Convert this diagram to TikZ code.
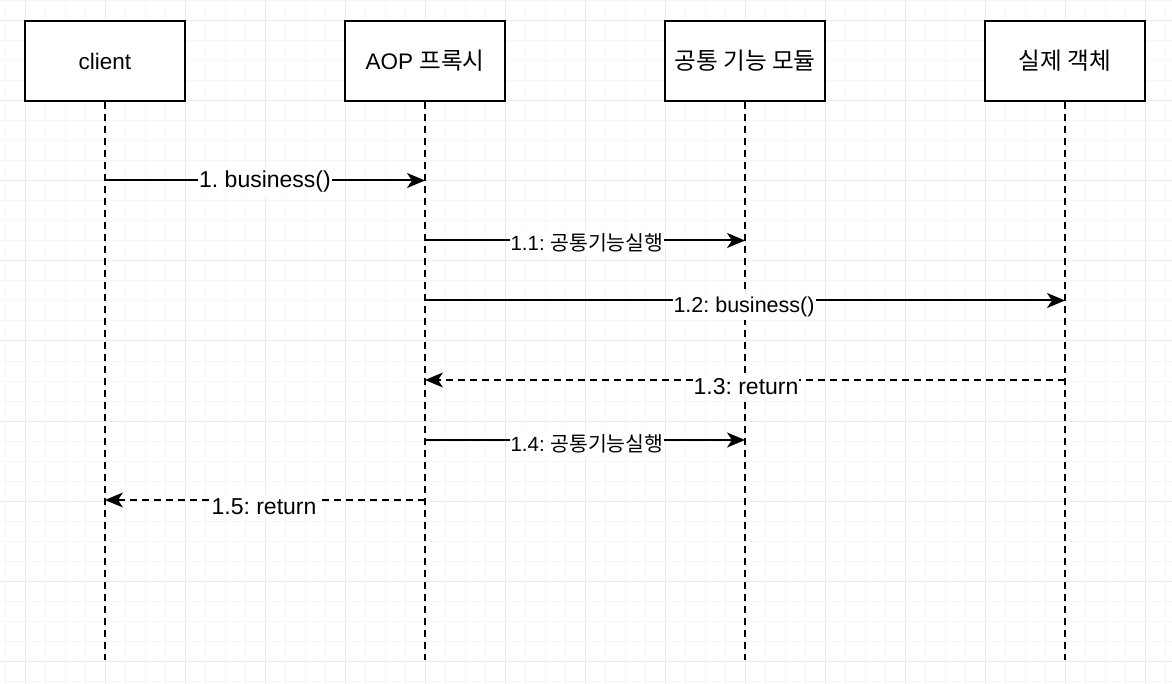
\documentclass[tikz,border=0pt]{standalone}
\usepackage{fontspec}
\setmainfont{Liberation Sans}
\newfontfamily\kr{Noto Sans CJK KR}[Scale=1.05]
\usetikzlibrary{arrows.meta}
\frenchspacing
\tikzset{
  gridminor/.style={draw=gray!7, line width=1pt},
  gridmajor/.style={draw=gray!15, line width=1pt},
  actor/.style={draw=black, fill=white, line width=2pt, minimum width=160pt, minimum height=80pt, inner sep=0pt, font=\fontsize{22.5}{26}\selectfont},
  lifeline/.style={draw=black, line width=2pt, dash pattern=on 7pt off 5pt},
  msg/.style={draw=black, line width=2pt, -{Stealth[length=18pt,width=15pt,inset=5pt]}},
  ret/.style={msg, dash pattern=on 7pt off 5pt},
  lbl/.style={fill=white, anchor=base, inner xsep=1pt, inner ysep=3pt},
  lblbig/.style={lbl, font=\fontsize{23}{27}\selectfont},
  lblmid/.style={lbl, font=\fontsize{21.5}{25}\selectfont},
  lblsmall/.style={lbl, font=\fontsize{20.5}{24}\selectfont}
}
\begin{document}
\begin{tikzpicture}[x=1pt,y=-1pt]
\useasboundingbox (0,0) rectangle (1172,684);
\fill[white] (0,0) rectangle (1172,684);
% grid
\foreach \x in {5,25,...,1165} \draw[gridminor] (\x,0) -- (\x,684);
\foreach \y in {1,21,...,681} \draw[gridminor] (0,\y) -- (1172,\y);
\foreach \x in {25,105,...,1145} \draw[gridmajor] (\x,0) -- (\x,684);
\foreach \y in {21,101,...,661} \draw[gridmajor] (0,\y) -- (1172,\y);
% actors
\node[actor] (c) at (105,61) {client};
\node[actor] (p) at (425,61) {AOP {\kr 프록시}};
\node[actor] (m) at (745,61) {{\kr 공통 기능 모듈}};
\node[actor] (o) at (1065,61) {{\kr 실제 객체}};
% lifeline ends
\coordinate (cE) at (105,660);
\coordinate (pE) at (425,660);
\coordinate (mE) at (745,660);
\coordinate (oE) at (1065,660);
\draw[lifeline] (c.south) -- (cE);
\draw[lifeline] (p.south) -- (pE);
\draw[lifeline] (m.south) -- (mE);
\draw[lifeline] (o.south) -- (oE);
% message points
\coordinate (c1) at (105,180.5);
\coordinate (p1) at (425,180.5);
\coordinate (p2) at (425,240.5);
\coordinate (m2) at (745,240.5);
\coordinate (p3) at (425,300.5);
\coordinate (o3) at (1065,300.5);
\coordinate (o4) at (1065,380);
\coordinate (p4) at (425,380);
\coordinate (p5) at (425,440);
\coordinate (m5) at (745,440);
\coordinate (p6) at (425,500);
\coordinate (c6) at (105,500);
% messages
\draw[msg] (c1) -- (p1);
\draw[msg] (p2) -- (m2);
\draw[msg] (p3) -- (o3);
\draw[ret] (o4) -- (p4);
\draw[msg] (p5) -- (m5);
\draw[ret] (p6) -- (c6);
% labels
\node[lblbig] (l1) at (265,187.5) {1. business()};
\node[lblsmall] (l2) at (587,251) {1.1: {\kr\fontsize{19.5}{23}\selectfont 공통기능실행}};
\node[lblmid] (l3) at (744,312.5) {1.2: business()};
\node[lblbig] (l4) at (746,394) {1.3: return};
\node[lblsmall] (l5) at (587,451) {1.4: {\kr\fontsize{19.5}{23}\selectfont 공통기능실행}};
\node[lblbig] (l6) at (264,514) {1.5: return};
\end{tikzpicture}
\end{document}
